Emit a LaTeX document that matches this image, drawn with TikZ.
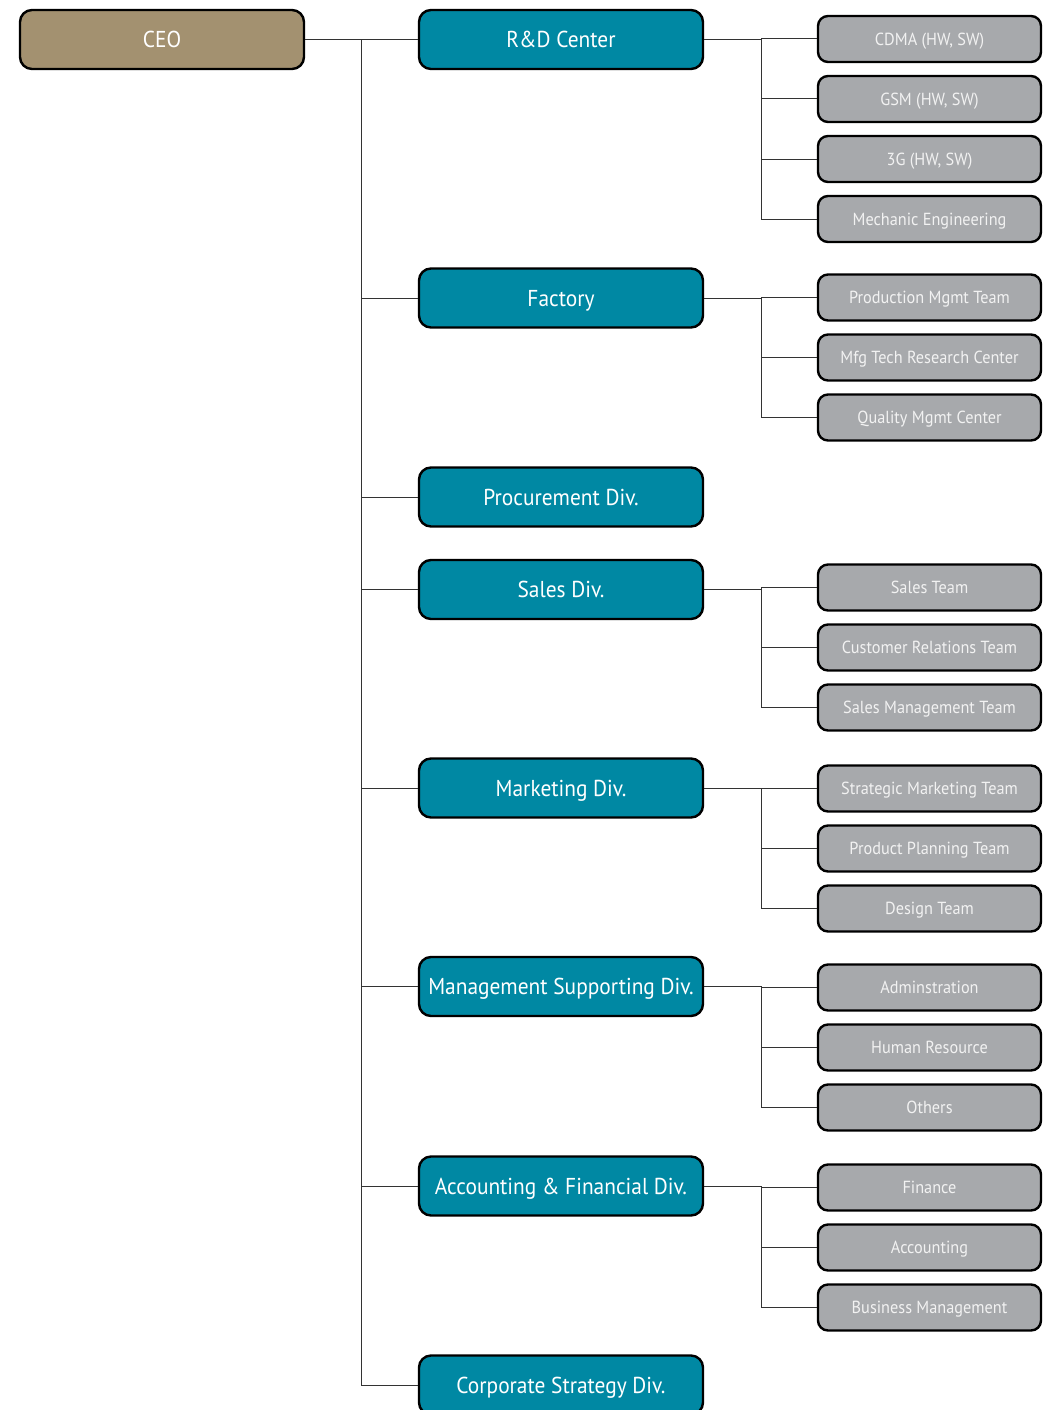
\documentclass[tikz,border=0pt]{standalone}
\usepackage{fontspec}
\setmainfont{PT Sans}[FakeStretch=0.93]
\definecolor{ceofill}{HTML}{A39170}
\definecolor{divfill}{HTML}{0088A3}
\definecolor{teamfill}{HTML}{A7A9AC}
\definecolor{teamtext}{HTML}{F2F2F2}
\definecolor{linecol}{HTML}{333333}
\tikzset{
  ceobox/.style={draw=black, line width=2.4pt, fill=ceofill, rounded corners=12pt,
    minimum width=284pt, minimum height=59pt, text=white, font=\fontsize{23}{26}\selectfont, inner sep=0pt,
    text height=16pt, text depth=0pt},
  divbox/.style={draw=black, line width=2.4pt, fill=divfill, rounded corners=12pt,
    minimum width=284pt, minimum height=59pt, text=white, font=\fontsize{23}{26}\selectfont, inner sep=0pt,
    text height=16pt, text depth=0pt},
  teambox/.style={draw=black, line width=2.4pt, fill=teamfill, rounded corners=10pt,
    minimum width=223pt, minimum height=46pt, text=teamtext, font=\fontsize{17.5}{20}\selectfont, inner sep=0pt,
    text height=12.2pt, text depth=0pt},
  conn/.style={draw=linecol, line width=1pt}
}
\begin{document}
\begin{tikzpicture}[x=1pt,y=-1pt]
\useasboundingbox (0,0) rectangle (1048,1410);
\clip (0,0) rectangle (1048,1410);
% level 0 and 1
\node[ceobox] (ceo) at (162,39.5) {CEO};
\node[divbox] (rd) at (561,39.5) {R\&D Center};
\node[divbox] (fac) at (561,298) {Factory};
\node[divbox] (proc) at (561,497) {Procurement Div.};
\node[divbox] (sales) at (561,589.5) {Sales Div.};
\node[divbox] (mkt) at (561,788) {Marketing Div.};
\node[divbox] (mgmt) at (561,986.5) {Management Supporting Div.};
\node[divbox] (acc) at (561,1186) {Accounting \& Financial Div.};
\node[divbox] (corp) at (561,1385) {Corporate Strategy Div.};
% level 2
\node[teambox] (cdma) at (929.5,39) {CDMA (HW, SW)};
\node[teambox] (gsm) at (929.5,99) {GSM (HW, SW)};
\node[teambox] (g3) at (929.5,159) {3G (HW, SW)};
\node[teambox] (mech) at (929.5,219) {Mechanic Engineering};
\node[teambox] (prod) at (929.5,297.5) {Production Mgmt Team};
\node[teambox] (mfg) at (929.5,357.5) {Mfg Tech Research Center};
\node[teambox] (qual) at (929.5,417.5) {Quality Mgmt Center};
\node[teambox] (steam) at (929.5,587.5) {Sales Team};
\node[teambox] (cust) at (929.5,647.5) {Customer Relations Team};
\node[teambox] (smgmt) at (929.5,707.5) {Sales Management Team};
\node[teambox] (strat) at (929.5,788.5) {Strategic Marketing Team};
\node[teambox] (plan) at (929.5,848.5) {Product Planning Team};
\node[teambox] (design) at (929.5,908.5) {Design Team};
\node[teambox] (admin) at (929.5,987.5) {Adminstration};
\node[teambox] (hr) at (929.5,1047.5) {Human Resource};
\node[teambox] (others) at (929.5,1107.5) {Others};
\node[teambox] (fin) at (929.5,1187.5) {Finance};
\node[teambox] (acct) at (929.5,1247.5) {Accounting};
\node[teambox] (bus) at (929.5,1307.5) {Business Management};
% trunk
\coordinate (trunk) at (361,39.5);
\path[conn] (ceo.east) -- (rd.west);
\foreach \d in {fac,proc,sales,mkt,mgmt,acc,corp}{
  \path[conn] (trunk) |- (\d.west);
}
% sub trunks
\foreach \p/\kids in {rd/{cdma,gsm,g3,mech}, fac/{prod,mfg,qual}, sales/{steam,cust,smgmt},
  mkt/{strat,plan,design}, mgmt/{admin,hr,others}, acc/{fin,acct,bus}}{
  \foreach \k in \kids {
    \path[conn] (\p.east) -- ++(57,0) |- (\k.west);
  }
}
\end{tikzpicture}
\end{document}
